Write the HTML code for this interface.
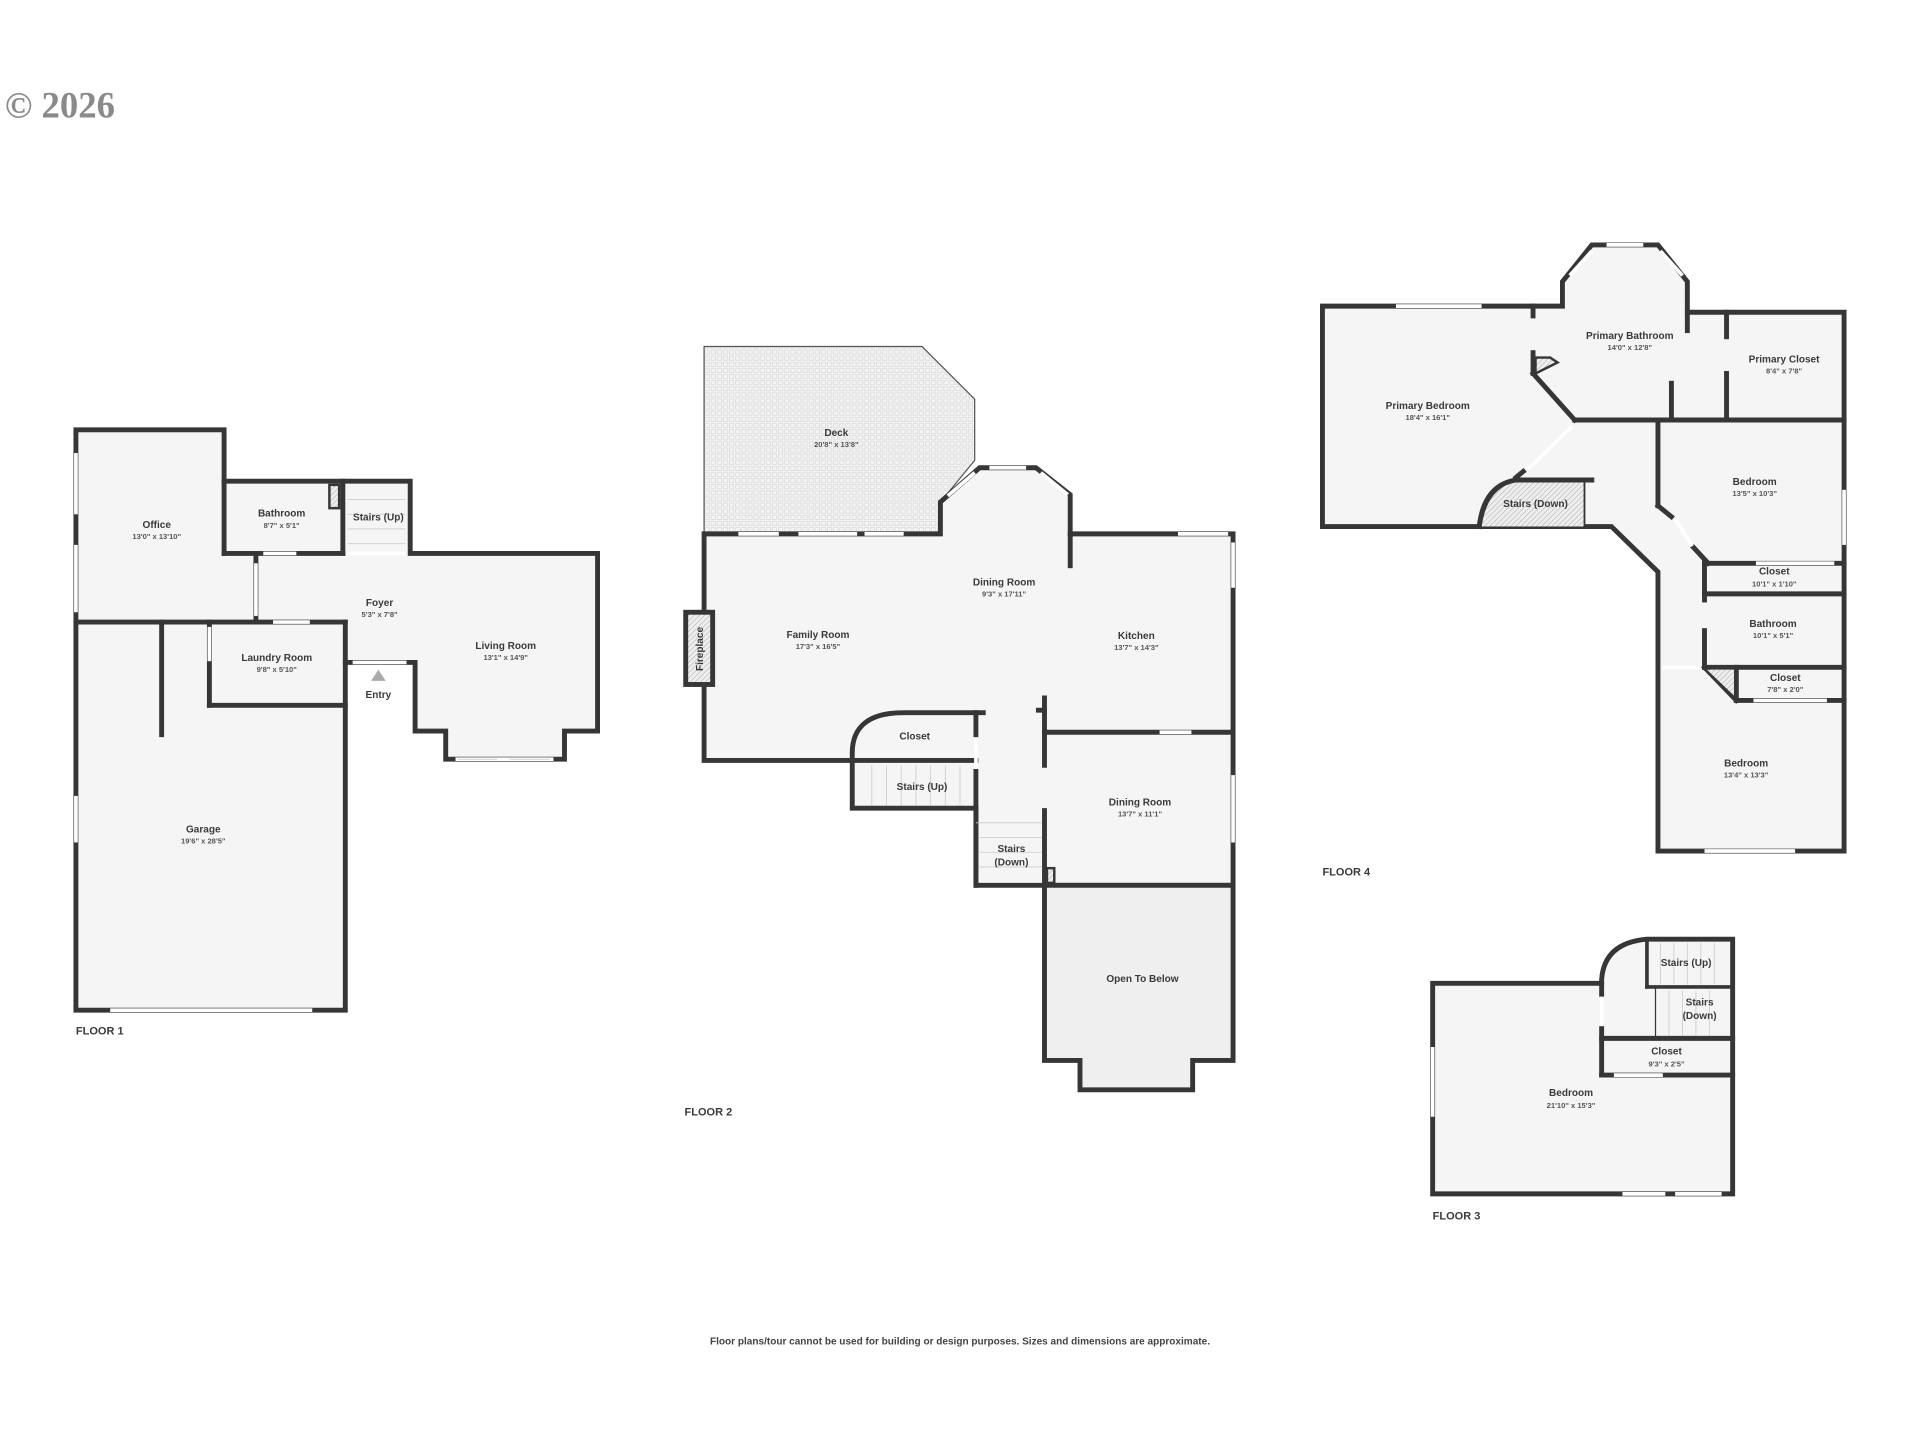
<!DOCTYPE html>
<html><head><meta charset="utf-8"><style>
html,body{margin:0;padding:0;background:#fff;}
svg{display:block;}
text{font-family:"Liberation Sans",sans-serif;fill:#3a3a3a;text-anchor:middle;}
.n{font-size:8.2px;font-weight:bold;}
.d{font-size:6.2px;font-weight:bold;fill:#555;}
.fl{font-size:9px;font-weight:bold;text-anchor:start;}
.w{stroke:#363636;stroke-width:4;fill:none;stroke-linecap:square;stroke-linejoin:miter;}
.rm{fill:#f5f5f5;stroke:#363636;stroke-width:4;stroke-linejoin:miter;}
.win{stroke:#fff;stroke-width:3;}
.wl{stroke:#bbb;stroke-width:0.6;}
.st{stroke:#ccc;stroke-width:0.7;}
</style></head><body>
<svg width="1920" height="1440" viewBox="0 0 1568 1176" xmlns="http://www.w3.org/2000/svg">
<defs>
<pattern id="deck" width="5" height="5" patternUnits="userSpaceOnUse">
<rect width="5" height="5" fill="#f4f4f4"/><rect x="0.8" y="0.8" width="3.4" height="3.4" fill="none" stroke="#dcdcdc" stroke-width="0.7"/></pattern>
<pattern id="hatch" width="3" height="3" patternUnits="userSpaceOnUse" patternTransform="rotate(45)">
<rect width="3" height="3" fill="#eee"/><line x1="0" y1="0" x2="0" y2="3" stroke="#aaa" stroke-width="0.8"/></pattern>
</defs>

<text x="4" y="96" style="font-family:'Liberation Serif',serif;font-size:30px;font-weight:bold;fill:#8a8a8a;text-anchor:start;">© 2026</text>

<!-- FLOOR 1 -->
<polygon class="rm" points="62,351 183,351 183,393 335,393 335,452 488,452 488,597 461,597 461,620 364,620 364,597 339,597 339,541 282,541 282,825 62,825"/>
<g class="w">
<line x1="183" y1="393" x2="183" y2="452"/><line x1="183" y1="452" x2="280" y2="452"/>
<line x1="280" y1="393" x2="280" y2="452"/>
<line x1="209" y1="452" x2="209" y2="508"/>
<line x1="62" y1="508" x2="282" y2="508"/>
<line x1="282" y1="508" x2="282" y2="541"/>
<line x1="171" y1="508" x2="171" y2="576"/><line x1="171" y1="576" x2="282" y2="576"/>
<line x1="132" y1="508" x2="132" y2="600"/>
</g>
<rect x="269" y="396" width="8" height="19" fill="url(#hatch)" stroke="#363636" stroke-width="2"/>
<g class="st"><line x1="284" y1="408" x2="331" y2="408"/><line x1="284" y1="420" x2="331" y2="420"/><line x1="284" y1="432" x2="331" y2="432"/><line x1="284" y1="444" x2="331" y2="444"/></g>
<g class="win">
<line x1="62" y1="370" x2="62" y2="420"/><line x1="62" y1="445" x2="62" y2="500"/><line x1="62" y1="650" x2="62" y2="688"/>
<line x1="215" y1="452" x2="242" y2="452"/><line x1="209" y1="460" x2="209" y2="503"/>
<line x1="223" y1="508" x2="253" y2="508"/><line x1="171" y1="512" x2="171" y2="540"/>
<line x1="288" y1="541" x2="332" y2="541"/>
<line x1="90" y1="825" x2="255" y2="825"/>
<line x1="284" y1="452" x2="331" y2="452"/>
<line x1="372" y1="620" x2="452" y2="620"/>
</g>
<g class="wl"><line x1="374" y1="620" x2="406" y2="620"/><line x1="416" y1="620" x2="449" y2="620"/></g>
<polygon points="303,556 315,556 309,547" fill="#aaa"/>
<text class="n" x="128" y="431">Office</text><text class="d" x="128" y="440">13'0" x 13'10"</text>
<text class="n" x="230" y="422">Bathroom</text><text class="d" x="230" y="431">8'7" x 5'1"</text>
<text class="n" x="309" y="425">Stairs (Up)</text>
<text class="n" x="310" y="495">Foyer</text><text class="d" x="310" y="504">5'3" x 7'8"</text>
<text class="n" x="413" y="530">Living Room</text><text class="d" x="413" y="539">13'1" x 14'9"</text>
<text class="n" x="226" y="540">Laundry Room</text><text class="d" x="226" y="549">9'8" x 5'10"</text>
<text class="n" x="309" y="570">Entry</text>
<text class="n" x="166" y="680">Garage</text><text class="d" x="166" y="689">19'6" x 28'5"</text>
<text class="fl" x="62" y="845">FLOOR 1</text>

<!-- FLOOR 2 -->
<polygon points="575,283 753,283 796,326 796,376 768,410 768,436 575,436" fill="url(#deck)" stroke="#555" stroke-width="1"/>
<polygon class="rm" points="575,436 768,436 768,410 800,382 846,382 874,404 874,436 1007,436 1007,723 853,723 853,723 797,723 797,660 696,660 696,621 575,621"/>
<polygon class="rm" points="853,723 1007,723 1007,866 974,866 974,890 882,890 882,866 853,866" style="fill:#efefef"/>
<rect x="700" y="582" width="97" height="39" fill="#f5f5f5"/>
<path class="w" d="M696,621 L696,615 Q696,582 738,582 L803,582"/>
<g class="w">
<line x1="696" y1="621" x2="797" y2="621"/><line x1="797" y1="582" x2="797" y2="600"/><line x1="797" y1="630" x2="797" y2="660"/>
<line x1="797" y1="660" x2="797" y2="723"/>
<line x1="874" y1="436" x2="874" y2="462"/>
<line x1="853" y1="598" x2="1007" y2="598"/>
<line x1="853" y1="570" x2="853" y2="625"/><line x1="848" y1="580" x2="853" y2="580"/>
<line x1="853" y1="662" x2="853" y2="723"/>
</g>
<rect x="855" y="709" width="6" height="12" fill="url(#hatch)" stroke="#363636" stroke-width="2"/>
<g class="st"><line x1="712" y1="625" x2="712" y2="658"/><line x1="724" y1="625" x2="724" y2="658"/><line x1="736" y1="625" x2="736" y2="658"/><line x1="748" y1="625" x2="748" y2="658"/><line x1="760" y1="625" x2="760" y2="658"/><line x1="772" y1="625" x2="772" y2="658"/><line x1="784" y1="625" x2="784" y2="658"/>
<line x1="797" y1="672" x2="851" y2="672"/><line x1="800" y1="684" x2="851" y2="684"/><line x1="800" y1="696" x2="851" y2="696"/><line x1="800" y1="708" x2="851" y2="708"/></g>
<rect x="560" y="500" width="22" height="59" fill="url(#hatch)" stroke="#363636" stroke-width="4"/>
<text class="n" transform="translate(574,530) rotate(-90)">Fireplace</text>
<g class="win">
<line x1="603" y1="436" x2="636" y2="436"/><line x1="652" y1="436" x2="700" y2="436"/><line x1="706" y1="436" x2="738" y2="436"/>
<line x1="808" y1="382" x2="838" y2="382"/><line x1="774" y1="405" x2="796" y2="386"/><line x1="850" y1="386" x2="872" y2="404"/>
<line x1="962" y1="436" x2="1003" y2="436"/><line x1="1007" y1="443" x2="1007" y2="480"/>
<line x1="1007" y1="633" x2="1007" y2="688"/><line x1="947" y1="598" x2="973" y2="598"/><line x1="797" y1="603" x2="797" y2="628"/>
</g>
<text class="n" x="683" y="356">Deck</text><text class="d" x="683" y="365">20'8" x 13'8"</text>
<text class="n" x="820" y="478">Dining Room</text><text class="d" x="820" y="487">9'3" x 17'11"</text>
<text class="n" x="668" y="521">Family Room</text><text class="d" x="668" y="530">17'3" x 16'5"</text>
<text class="n" x="928" y="522">Kitchen</text><text class="d" x="928" y="531">13'7" x 14'3"</text>
<text class="n" x="747" y="604">Closet</text>
<text class="n" x="753" y="645">Stairs (Up)</text>
<text class="n" x="826" y="696">Stairs</text><text class="n" x="826" y="707">(Down)</text>
<text class="n" x="931" y="658">Dining Room</text><text class="d" x="931" y="667">13'7" x 11'1"</text>
<text class="n" x="933" y="802">Open To Below</text>
<text class="fl" x="559" y="911">FLOOR 2</text>

<!-- FLOOR 4 -->
<polygon class="rm" points="1080,250 1276,250 1276,230 1300,200 1354,200 1378,230 1378,255 1506,255 1506,695 1354,695 1354,467 1316,430 1080,430"/>
<path d="M1208,430 Q1212,396 1238,392 L1294,392 L1294,430 Z" fill="url(#hatch)" stroke="none"/>
<path class="w" d="M1208,430 Q1212,396 1238,392 L1300,392"/>
<g class="w">
<line x1="1294" y1="392" x2="1294" y2="430" style="stroke-width:1.5"/>
<line x1="1252" y1="250" x2="1252" y2="258"/><line x1="1252" y1="288" x2="1252" y2="305"/>
<line x1="1252" y1="305" x2="1286" y2="343"/>
<line x1="1286" y1="343" x2="1506" y2="343"/>
<line x1="1378" y1="255" x2="1378" y2="270"/>
<line x1="1410" y1="255" x2="1410" y2="275"/><line x1="1410" y1="305" x2="1410" y2="343"/>
<line x1="1365" y1="313" x2="1365" y2="343"/>
<line x1="1354" y1="343" x2="1354" y2="413"/><line x1="1354" y1="413" x2="1365" y2="422"/>
<line x1="1383" y1="447" x2="1395" y2="460"/>
<line x1="1392" y1="460" x2="1506" y2="460"/><line x1="1392" y1="485" x2="1506" y2="485"/>
<line x1="1392" y1="460" x2="1392" y2="490"/><line x1="1392" y1="515" x2="1392" y2="545"/>
<line x1="1392" y1="545" x2="1506" y2="545"/>
<line x1="1418" y1="572" x2="1506" y2="572"/>
<line x1="1418" y1="545" x2="1418" y2="572"/>
<line x1="1392" y1="545" x2="1418" y2="572"/>
<line x1="1238" y1="390" x2="1244" y2="385"/>
</g>
<polygon points="1394,547 1416,547 1416,568" fill="url(#hatch)"/>
<polygon points="1254,292 1266,292 1272,296 1254,305" fill="url(#hatch)" stroke="#363636" stroke-width="2"/>
<g class="win">
<line x1="1140" y1="250" x2="1210" y2="250"/><line x1="1312" y1="200" x2="1342" y2="200"/>
<line x1="1282" y1="225" x2="1300" y2="205"/><line x1="1356" y1="205" x2="1374" y2="225"/>
<line x1="1506" y1="400" x2="1506" y2="445"/>
<line x1="1392" y1="695" x2="1466" y2="695"/>
<line x1="1248" y1="383" x2="1284" y2="348"/><line x1="1368" y1="424" x2="1382" y2="446"/>
<line x1="1434" y1="460" x2="1498" y2="460"/><line x1="1432" y1="572" x2="1492" y2="572"/>
<line x1="1358" y1="545" x2="1388" y2="545"/>
</g>
<text class="n" x="1166" y="334">Primary Bedroom</text><text class="d" x="1166" y="343">18'4" x 16'1"</text>
<text class="n" x="1331" y="277">Primary Bathroom</text><text class="d" x="1331" y="286">14'0" x 12'8"</text>
<text class="n" x="1457" y="296">Primary Closet</text><text class="d" x="1457" y="305">8'4" x 7'8"</text>
<text class="n" x="1254" y="414">Stairs (Down)</text>
<text class="n" x="1433" y="396">Bedroom</text><text class="d" x="1433" y="405">13'5" x 10'3"</text>
<text class="n" x="1449" y="469">Closet</text><text class="d" x="1449" y="479">10'1" x 1'10"</text>
<text class="n" x="1448" y="512">Bathroom</text><text class="d" x="1448" y="521">10'1" x 5'1"</text>
<text class="n" x="1458" y="556">Closet</text><text class="d" x="1458" y="565">7'8" x 2'0"</text>
<text class="n" x="1426" y="626">Bedroom</text><text class="d" x="1426" y="635">13'4" x 13'3"</text>
<text class="fl" x="1080" y="715">FLOOR 4</text>

<!-- FLOOR 3 -->
<path class="rm" d="M1170,803 L1308,803 L1308,800 Q1310,770 1345,767 L1415,767 L1415,975 L1170,975 Z"/>
<g class="w">
<line x1="1345" y1="767" x2="1345" y2="806" style="stroke-width:3"/><line x1="1345" y1="806" x2="1415" y2="806" style="stroke-width:3"/>
<line x1="1352" y1="806" x2="1352" y2="848" style="stroke-width:1"/>
<line x1="1308" y1="803" x2="1308" y2="812"/><line x1="1308" y1="840" x2="1308" y2="878"/>
<line x1="1308" y1="848" x2="1415" y2="848"/><line x1="1308" y1="878" x2="1415" y2="878"/>
</g>
<g class="st"><line x1="1356" y1="770" x2="1356" y2="804"/><line x1="1367" y1="770" x2="1367" y2="804"/><line x1="1378" y1="770" x2="1378" y2="804"/><line x1="1389" y1="770" x2="1389" y2="804"/><line x1="1400" y1="770" x2="1400" y2="804"/>
<line x1="1363" y1="809" x2="1363" y2="846"/><line x1="1374" y1="809" x2="1374" y2="846"/><line x1="1385" y1="809" x2="1385" y2="846"/><line x1="1396" y1="809" x2="1396" y2="846"/></g>
<g class="win">
<line x1="1170" y1="855" x2="1170" y2="912"/><line x1="1308" y1="814" x2="1308" y2="838"/>
<line x1="1318" y1="878" x2="1358" y2="878"/>
<line x1="1325" y1="975" x2="1360" y2="975"/><line x1="1368" y1="975" x2="1406" y2="975"/>
</g>
<text class="n" x="1377" y="789">Stairs (Up)</text>
<text class="n" x="1388" y="821">Stairs</text><text class="n" x="1388" y="832">(Down)</text>
<text class="n" x="1361" y="861">Closet</text><text class="d" x="1361" y="871">9'3" x 2'5"</text>
<text class="n" x="1283" y="895">Bedroom</text><text class="d" x="1283" y="905">21'10" x 15'3"</text>
<text class="fl" x="1170" y="996">FLOOR 3</text>

<text x="784" y="1098" style="font-size:8.2px;font-weight:bold;fill:#444">Floor plans/tour cannot be used for building or design purposes. Sizes and dimensions are approximate.</text>
</svg>
</body></html>
